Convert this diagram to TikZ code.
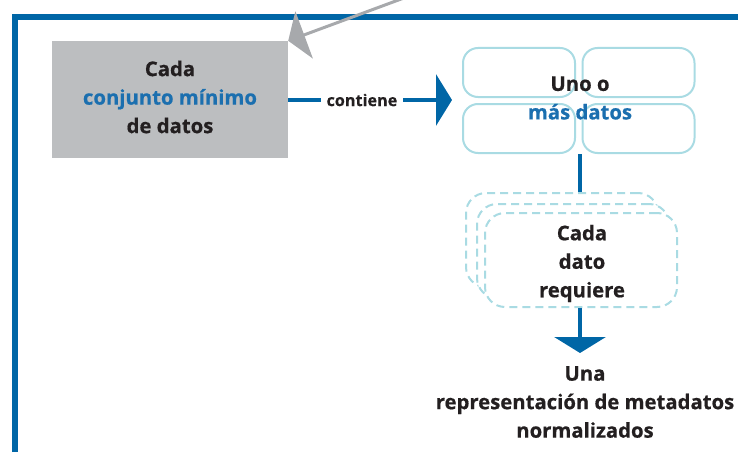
\documentclass[tikz,border=0pt]{standalone}
\usepackage{fontspec}
\setmainfont{Open Sans}[BoldFeatures={FakeBold=0.6}]
\usetikzlibrary{arrows.meta}
\definecolor{frameblue}{HTML}{0066A6}
\definecolor{txtdark}{HTML}{231F20}
\definecolor{txtblue}{HTML}{1B6FAF}
\definecolor{boxgray}{HTML}{BCBEC0}
\definecolor{arrgray}{HTML}{A7A9AC}
\definecolor{lightcyan}{HTML}{A9DBE3}
\tikzset{
  maintext/.style={text=txtdark, align=center, inner sep=0pt,
    font=\fontsize{20.3}{28.5}\selectfont\bfseries},
  graybox/.style={fill=boxgray, minimum width=236pt, minimum height=117pt, inner sep=0pt},
  databox/.style={draw=lightcyan, line width=2pt, rounded corners=15pt,
    minimum width=112pt, minimum height=49pt, inner sep=0pt},
  dashbox/.style={draw=lightcyan, fill=white, line width=2pt, dash pattern=on 8pt off 5pt,
    rounded corners=20pt, minimum width=192pt, minimum height=94pt, inner sep=0pt},
  blueconn/.style={draw=frameblue, line width=4pt},
  bluearrow/.style={blueconn, -{Triangle[length=16pt,width=51pt]}},
  grayarrow/.style={draw=arrgray, line width=3pt, -{Triangle[length=17pt,width=50pt]}},
  lbl/.style={fill=white, text=txtdark, inner xsep=6pt, inner ysep=2pt,
    font=\fontsize{16.2}{20}\selectfont\bfseries}
}
\begin{document}
\begin{tikzpicture}[x=1pt,y=-1pt]
\useasboundingbox (0,0) rectangle (738,452);
% frame
\draw[frameblue, line width=6pt] (14.5,452) -- (14.5,17) -- (738,17);
% gray box
\node[graybox] (cmd) at (170,99.5) {};
\node[maintext] (cmdtxt) at (170,97) {Cada\\\textcolor{txtblue}{conjunto mínimo}\\de datos};
% gray incoming arrow
\coordinate (gsrc) at (412,-5);
\draw[grayarrow] (gsrc) -- (cmd.north east);
% data boxes
\node[databox] (b1) at (519,72.5) {};
\node[databox] (b2) at (638.5,72.5) {};
\node[databox] (b3) at (519,128.5) {};
\node[databox] (b4) at (638.5,128.5) {};
\node[maintext] (datos) at (580,98) {Uno o\\\textcolor{txtblue}{más datos}};
% contiene arrow
\coordinate (ctip) at (452,100);
\draw[bluearrow] (cmd.east |- ctip) -- node[lbl, pos=0.45] (cont) {contiene} (ctip);
% dashed boxes
\node[dashbox] (dA) at (562,240) {};
\node[dashbox] (dB) at (573,251) {};
\node[dashbox] (dC) at (581,260) {};
\node[maintext] (req) at (582,263.5) {Cada\\dato\\requiere};
\draw[blueconn] (datos |- b3.south) -- (datos |- dA.north);
% result
\node[maintext] (res) at (585,402) {Una\\representación de metadatos\\normalizados};
\coordinate (rtip) at (580,353);
\draw[bluearrow] (rtip |- dC.south) -- (rtip);
\end{tikzpicture}
\end{document}
